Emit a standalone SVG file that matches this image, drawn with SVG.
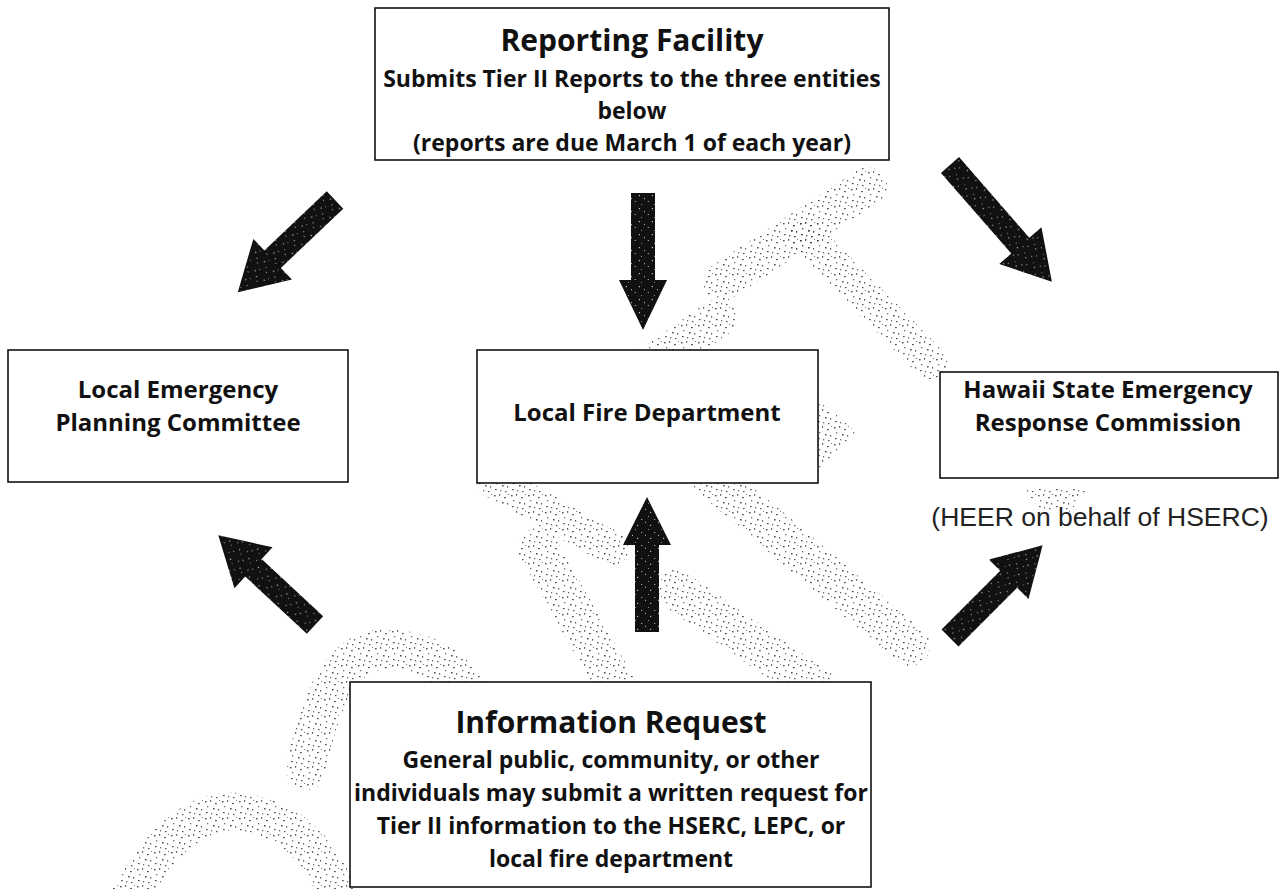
<svg xmlns="http://www.w3.org/2000/svg" width="1279" height="889" viewBox="0 0 1279 889">
  <defs>
    <!-- grainy grey stipple used for the faint background marks -->
    <pattern id="stipple" patternUnits="userSpaceOnUse" width="17" height="17">
      <rect x="1" y="2" width="1.6" height="1.4" fill="#333"/>
      <rect x="6" y="1" width="1.2" height="1.8" fill="#444"/>
      <rect x="11" y="4" width="1.8" height="1.2" fill="#333"/>
      <rect x="3" y="7" width="1.3" height="1.3" fill="#555"/>
      <rect x="9" y="9" width="1.6" height="1.5" fill="#333"/>
      <rect x="14" y="10" width="1.2" height="1.6" fill="#444"/>
      <rect x="2" y="13" width="1.7" height="1.2" fill="#333"/>
      <rect x="7" y="14" width="1.2" height="1.4" fill="#555"/>
      <rect x="12" y="15" width="1.5" height="1.2" fill="#333"/>
      <rect x="15" y="1" width="1" height="1" fill="#666"/>
    </pattern>
    <!-- nearly solid black with a few light flecks for the block arrows -->
    <pattern id="inked" patternUnits="userSpaceOnUse" width="13" height="13">
      <rect width="13" height="13" fill="#111"/>
      <rect x="2" y="3" width="1.2" height="1.2" fill="#bbb"/>
      <rect x="8" y="7" width="1" height="1.3" fill="#999"/>
      <rect x="5" y="11" width="1.2" height="1" fill="#aaa"/>
      <rect x="11" y="1" width="1" height="1" fill="#888"/>
    </pattern>
  </defs>
  <style>
    .box { fill: #fff; stroke: #111; stroke-width: 1.6; }
    .t { font-family: "Open Sans", "Liberation Sans", sans-serif; font-weight: 700; fill: #111; text-anchor: middle; }
    .title { font-size: 30px; }
    .body { font-size: 23px; }
    .node { font-size: 24px; }
    .note { font-family: "Liberation Sans", Arial, sans-serif; font-size: 26.5px; fill: #222; text-anchor: middle; }
    .mark { fill: none; stroke: url(#stipple); stroke-linecap: round; opacity: 0.85; }
    .markfill { fill: url(#stipple); opacity: 0.85; }
    .arrow { fill: url(#inked); }
  </style>

  <rect width="1279" height="889" fill="#fff"/>

  <!-- faint background marks -->
  <g id="background-marks">
    <path class="mark" d="M722 282 L868 186" stroke-width="38"/>
    <path class="mark" d="M806 236 L930 362" stroke-width="34" stroke-linecap="butt"/>
    <path class="mark" d="M718 318 L640 372" stroke-width="38"/>
    <path class="markfill" d="M818 398 L856 432 L818 470 Z"/>
    <path class="mark" d="M712 478 L910 646" stroke-width="40"/>
    <path class="mark" d="M495 482 L612 548" stroke-width="34"/>
    <path class="mark" d="M538 548 L618 690" stroke-width="40"/>
    <path class="mark" d="M676 590 L820 690" stroke-width="40"/>
    <path class="mark" d="M306 770 Q330 640 395 650 Q450 655 470 700" stroke-width="40"/>
    <path class="mark" d="M128 900 Q180 805 240 812 Q310 820 340 900" stroke-width="38"/>
    <path class="markfill" d="M1024 488 L1088 488 L1070 512 L1040 510 Z"/>
  </g>

  <!-- nodes -->
  <g id="reporting-facility">
    <rect class="box" x="375" y="8" width="514" height="152"/>
    <text class="t title" x="632" y="51">Reporting Facility</text>
    <text class="t body" x="632" y="87">Submits Tier II Reports to the three entities</text>
    <text class="t body" x="632" y="119">below</text>
    <text class="t body" x="632" y="151">(reports are due March 1 of each year)</text>
  </g>

  <g id="lepc">
    <rect class="box" x="8" y="350" width="340" height="132"/>
    <text class="t node" x="178" y="398">Local Emergency</text>
    <text class="t node" x="178" y="431">Planning Committee</text>
  </g>

  <g id="fire-department">
    <rect class="box" x="477" y="350" width="341" height="133"/>
    <text class="t node" x="647" y="421">Local Fire Department</text>
  </g>

  <g id="hserc">
    <rect class="box" x="940" y="372" width="338" height="106"/>
    <text class="t node" x="1108" y="398">Hawaii State Emergency</text>
    <text class="t node" x="1108" y="431">Response Commission</text>
    <text class="note" x="1100" y="526">(HEER on behalf of HSERC)</text>
  </g>

  <g id="information-request">
    <rect class="box" x="350" y="682" width="521" height="205"/>
    <text class="t title" x="611" y="733">Information Request</text>
    <text class="t body" x="611" y="768">General public, community, or other</text>
    <text class="t body" x="611" y="801">individuals may submit a written request for</text>
    <text class="t body" x="611" y="834">Tier II information to the HSERC, LEPC, or</text>
    <text class="t body" x="611" y="867">local fire department</text>
  </g>

  <!-- connectors: block arrows -->
  <g id="connectors">
    <polygon class="arrow" transform="translate(335,200) rotate(136.5)" points="0,-12 86,-12 86,-28 134,0 86,28 86,12 0,12"/>
    <polygon class="arrow" transform="translate(643,193) rotate(90)" points="0,-12 87,-12 87,-24 137,0 87,24 87,12 0,12"/>
    <polygon class="arrow" transform="translate(950,165) rotate(48.9)" points="0,-12 107,-12 107,-28 155,0 107,28 107,12 0,12"/>
    <polygon class="arrow" transform="translate(315,625) rotate(-137.1)" points="0,-12 84,-12 84,-28 132,0 84,28 84,12 0,12"/>
    <polygon class="arrow" transform="translate(647,632) rotate(-90)" points="0,-12 87,-12 87,-24 135,0 87,24 87,12 0,12"/>
    <polygon class="arrow" transform="translate(950,638) rotate(-45)" points="0,-12 83,-12 83,-28 131,0 83,28 83,12 0,12"/>
  </g>
</svg>
